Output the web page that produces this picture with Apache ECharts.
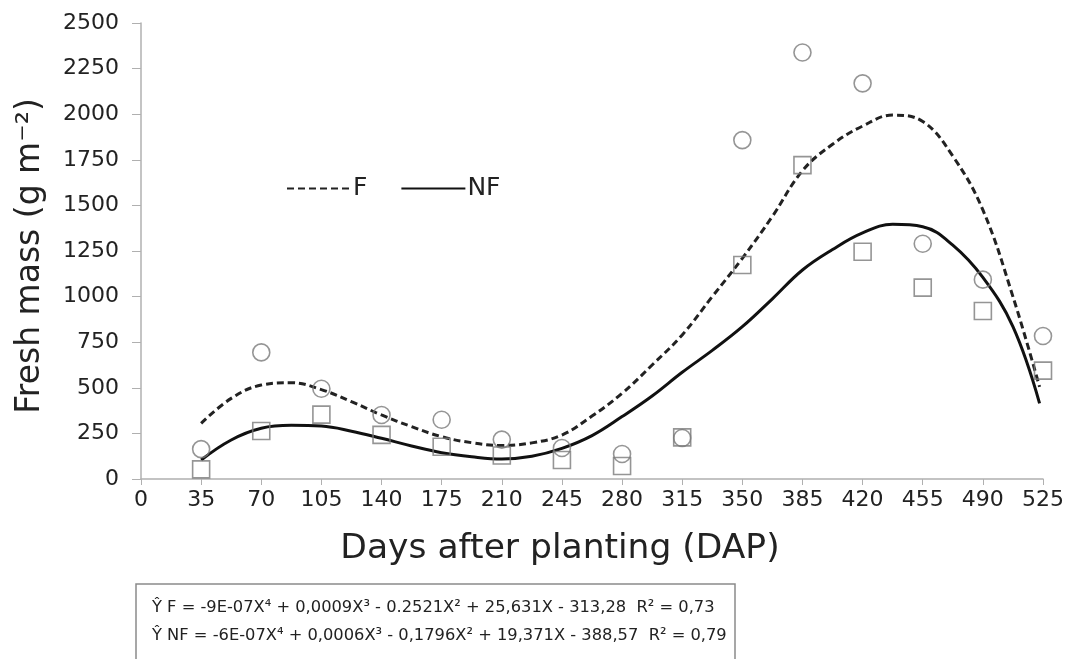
<!DOCTYPE html>
<html>
<head>
<meta charset="utf-8">
<script src="https://cdn.jsdelivr.net/npm/echarts@6/dist/echarts.min.js"></script>
<style>
html,body{margin:0;padding:0;background:#fff;}
#chart{width:1069px;height:659px;}
</style>
</head>
<body>
<div id="chart"></div>
<script>
// Observation days (DAP)
const days = [35, 70, 105, 140, 175, 210, 245, 280, 315, 350, 385, 420, 455, 490, 525];
// Observed fresh mass (g m-2)
const fObserved  = [164, 694, 495, 351, 325, 216, 170, 137, 225, 1858, 2338, 2169, 1290, 1093, 784];
const nfObserved = [53, 263, 353, 242, 177, 129, 104, 71, 228, 1173, 1721, 1246, 1049, 921, 594];
// Fitted curves
const fitDays = [35, 52.5, 70, 87.5, 105, 122.5, 140, 157.5, 175, 192.5, 210, 227.5, 245, 262.5, 280, 297.5, 315, 332.5, 350, 367.5, 385, 402.5, 420, 437.5, 455, 472.5, 490, 507.5, 523];
const fFit  = [305, 442, 515, 528, 490, 424, 351, 287, 232, 199, 184, 198, 241, 345, 470, 625, 790, 1000, 1210, 1440, 1690, 1835, 1935, 1995, 1960, 1770, 1475, 1000, 505];
const nfFit = [104, 214, 278, 294, 290, 262, 223, 181, 144, 122, 110, 125, 168, 238, 342, 455, 585, 705, 835, 988, 1146, 1258, 1349, 1396, 1383, 1282, 1105, 835, 415];
const seriesNames = ['F', 'NF'];
const equations = [
  'Ŷ F = -9E-07X⁴ + 0,0009X³ - 0.2521X² + 25,631X - 313,28  R² = 0,73',
  'Ŷ NF = -6E-07X⁴ + 0,0006X³ - 0,1796X² + 19,371X - 388,57  R² = 0,79'
];
const xTitle = 'Days after planting (DAP)';
const yTitle = 'Fresh mass (g m⁻²)';

const pair = (xs, ys) => xs.map((x, i) => [x, ys[i]]);
const FONT = 'DejaVu Sans';

const chart = echarts.init(document.getElementById('chart'), null, {renderer: 'canvas'});
chart.setOption({
  backgroundColor: '#ffffff',
  animation: false,
  grid: {left: 141, right: 26, top: 23, bottom: 180, containLabel: false},
  legend: {
    data: seriesNames,
    left: 281, top: 171,
    itemWidth: 64, itemHeight: 14, itemGap: 33,
    itemStyle: {color: 'rgba(0,0,0,0)', borderWidth: 0, opacity: 0},
    textStyle: {fontFamily: FONT, fontSize: 25, color: '#222', padding: [0, 0, 0, -3]}
  },
  xAxis: {
    type: 'value', min: 0, max: 525, interval: 35,
    name: xTitle, nameLocation: 'middle', nameGap: 53,
    nameTextStyle: {fontFamily: FONT, fontSize: 34.5, color: '#222', padding: [0, 64, 0, 0]},
    axisLine: {lineStyle: {color: '#b0b0b0', width: 1.5}},
    axisTick: {show: true, inside: false, length: 6, lineStyle: {color: '#b0b0b0'}},
    axisLabel: {fontFamily: FONT, fontSize: 22, color: '#222', margin: 10},
    splitLine: {show: false}
  },
  yAxis: {
    type: 'value', min: 0, max: 2500, interval: 250,
    name: yTitle, nameLocation: 'middle', nameGap: 94, nameRotate: 90,
    nameTextStyle: {fontFamily: FONT, fontSize: 33, color: '#222', padding: [0, 10, 0, 0]},
    axisLine: {show: true, lineStyle: {color: '#b0b0b0', width: 1.5}},
    axisTick: {show: true, inside: false, length: 9, lineStyle: {color: '#b0b0b0'}},
    axisLabel: {fontFamily: FONT, fontSize: 22, color: '#222', margin: 22, formatter: v => String(v)},
    splitLine: {show: false}
  },
  series: [
    {
      name: 'F', type: 'line', data: pair(fitDays, fFit),
      smooth: 0.4, symbol: 'none', showSymbol: false,
      lineStyle: {color: '#222', width: 3, type: [7, 4]}, itemStyle: {color: '#222'}, z: 3
    },
    {
      name: 'NF', type: 'line', data: pair(fitDays, nfFit),
      smooth: 0.4, symbol: 'none', showSymbol: false,
      lineStyle: {color: '#111', width: 3, type: 'solid'}, itemStyle: {color: '#111'}, z: 3
    },
    {
      name: 'F obs', type: 'scatter', data: pair(days, fObserved),
      symbol: 'circle', symbolSize: 17,
      itemStyle: {color: 'rgba(255,255,255,0)', borderColor: '#7a7a7a', borderWidth: 1.6}, z: 4
    },
    {
      name: 'NF obs', type: 'scatter', data: pair(days, nfObserved),
      symbol: 'rect', symbolSize: 17,
      itemStyle: {color: 'rgba(255,255,255,0)', borderColor: '#7a7a7a', borderWidth: 1.6}, z: 4
    }
  ],
  graphic: [
    {type: 'rect', shape: {x: 136, y: 584, width: 599, height: 100},
     style: {fill: 'none', stroke: '#8a8a8a', lineWidth: 1.5}},
    {type: 'text', left: 152, top: 600,
     style: {text: equations[0], font: '16.3px "DejaVu Sans"', fill: '#222'}},
    {type: 'text', left: 152, top: 628,
     style: {text: equations[1], font: '16.3px "DejaVu Sans"', fill: '#222'}}
  ]
});
</script>
</body>
</html>
